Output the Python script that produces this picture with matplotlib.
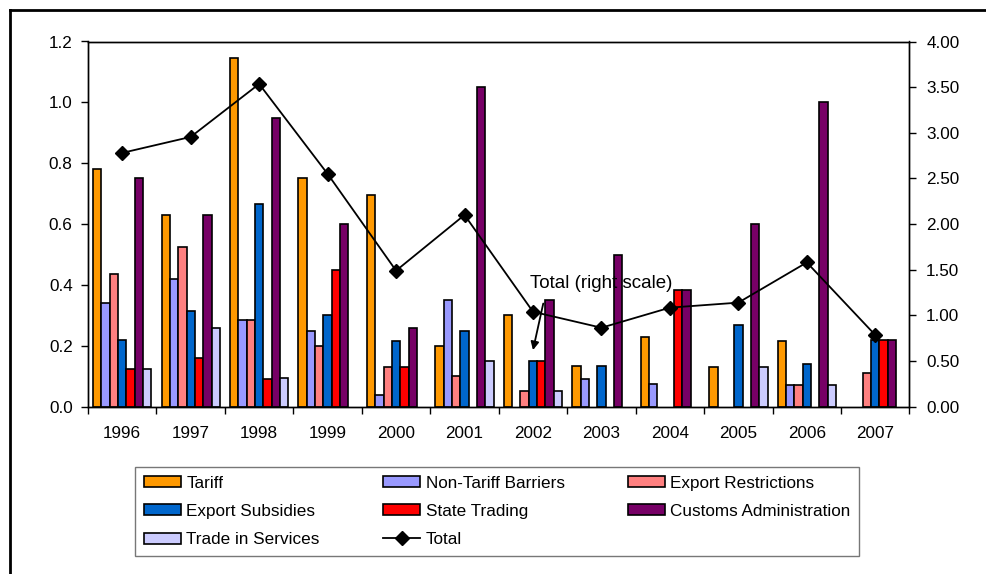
import matplotlib
matplotlib.use("Agg")
import matplotlib.pyplot as plt
import numpy as np
from matplotlib.lines import Line2D

plt.rcParams['font.family'] = ['Liberation Sans', 'DejaVu Sans']

years = ["1996", "1997", "1998", "1999", "2000", "2001", "2002",
         "2003", "2004", "2005", "2006", "2007"]

tariff = [0.78, 0.63, 1.145, 0.75, 0.695, 0.20, 0.30, 0.135, 0.23, 0.13, 0.215, 0.0]
non_tariff = [0.34, 0.42, 0.285, 0.25, 0.04, 0.35, 0.0, 0.09, 0.075, 0.0, 0.07, 0.0]
export_restr = [0.435, 0.525, 0.285, 0.20, 0.13, 0.10, 0.05, 0.0, 0.0, 0.0, 0.07, 0.11]
export_subs = [0.22, 0.315, 0.665, 0.30, 0.215, 0.25, 0.15, 0.135, 0.0, 0.27, 0.14, 0.22]
state_trading = [0.125, 0.16, 0.09, 0.45, 0.13, 0.0, 0.15, 0.0, 0.385, 0.0, 0.0, 0.22]
customs = [0.75, 0.63, 0.95, 0.60, 0.26, 1.05, 0.35, 0.50, 0.385, 0.60, 1.0, 0.22]
services = [0.125, 0.26, 0.095, 0.0, 0.0, 0.15, 0.05, 0.0, 0.0, 0.13, 0.07, 0.0]
total = [2.78, 2.955, 3.535, 2.55, 1.49, 2.10, 1.04, 0.865, 1.085, 1.14, 1.58, 0.785]

series_names = ["Tariff", "Non-Tariff Barriers", "Export Restrictions",
                "Export Subsidies", "State Trading", "Customs Administration",
                "Trade in Services"]
series_values = [tariff, non_tariff, export_restr, export_subs,
                 state_trading, customs, services]
colors = ["#FF9900", "#9999FF", "#FF8080", "#0066CC", "#FF0000", "#770066", "#CCCCFF"]

W, H = 987, 574
fig = plt.figure(figsize=(W / 100, H / 100), dpi=100)
ax = fig.add_axes([88 / W, 1 - 406.7 / H, (909.5 - 88) / W, (406.7 - 41.5) / H])
ax2 = ax.twinx()

x = np.arange(len(years))
bw = 0.852 / 7
handles = {}
for j, (name, vals, col) in enumerate(zip(series_names, series_values, colors)):
    vals = np.array(vals, dtype=float)
    mask = vals > 0
    b = ax.bar(x[mask] + (j - 3) * bw, vals[mask], width=bw, color=col,
               edgecolor="black", linewidth=1.2, label=name, zorder=2)
    handles[name] = b

line, = ax2.plot(x, total, color="black", lw=1.3, marker="D", markersize=7,
                 label="Total", zorder=3)
handles["Total"] = line

fs = 12.3
ax.set_xlim(-0.5, len(years) - 0.5)
ax.set_ylim(0, 1.2)
ax2.set_ylim(0, 4.0)
ax.set_yticks(np.arange(0, 1.21, 0.2))
ax.set_yticklabels([f"{v:.1f}" for v in np.arange(0, 1.21, 0.2)], fontsize=fs)
ax2.set_yticks(np.arange(0, 4.01, 0.5))
ax2.set_yticklabels([f"{v:.2f}" for v in np.arange(0, 4.01, 0.5)], fontsize=fs)
ax.set_xticks(x)
ax.set_xticklabels(years, fontsize=fs)
ax.set_xticks(np.arange(-0.5, len(years), 1.0), minor=True)
ax.tick_params(axis="x", which="major", length=0, pad=14)
ax.tick_params(axis="x", which="minor", length=5, width=1, direction="out")
ax.tick_params(axis="y", length=5, width=1, direction="out", pad=6)
ax2.tick_params(axis="y", length=5, width=1, direction="out", pad=7)
for a in (ax, ax2):
    for s in a.spines.values():
        s.set_linewidth(1.0)
        s.set_color("black")

ax2.text(7.0, 1.345, "Total (right scale)", ha="center", va="center", fontsize=13.5)
ax2.annotate("", xy=(6.0, 0.62), xytext=(6.15, 1.13),
             arrowprops=dict(arrowstyle="-|>", color="black", lw=1.3,
                             mutation_scale=12, shrinkA=0, shrinkB=0))

order = ["Tariff", "Export Subsidies", "Trade in Services",
         "Non-Tariff Barriers", "State Trading", "Total",
         "Export Restrictions", "Customs Administration"]
leg = fig.legend([handles[k] for k in order], order, loc="upper left",
                 bbox_to_anchor=(135 / W, 1 - 467 / H), ncol=3, fontsize=fs,
                 frameon=True, fancybox=False, edgecolor="#555555",
                 borderaxespad=0, handlelength=2.2, handleheight=0.6,
                 handletextpad=0.3, columnspacing=3.7, labelspacing=0.78,
                 borderpad=0.5)
leg.get_frame().set_linewidth(1.0)

fig.add_artist(Line2D([10 / W, 1.0], [1 - 10 / H, 1 - 10 / H], color="black", lw=2,
                      transform=fig.transFigure))
fig.add_artist(Line2D([10 / W, 10 / W], [1 - 10 / H, 0.0], color="black", lw=2,
                      transform=fig.transFigure))

fig.savefig("out.png", dpi=100)
